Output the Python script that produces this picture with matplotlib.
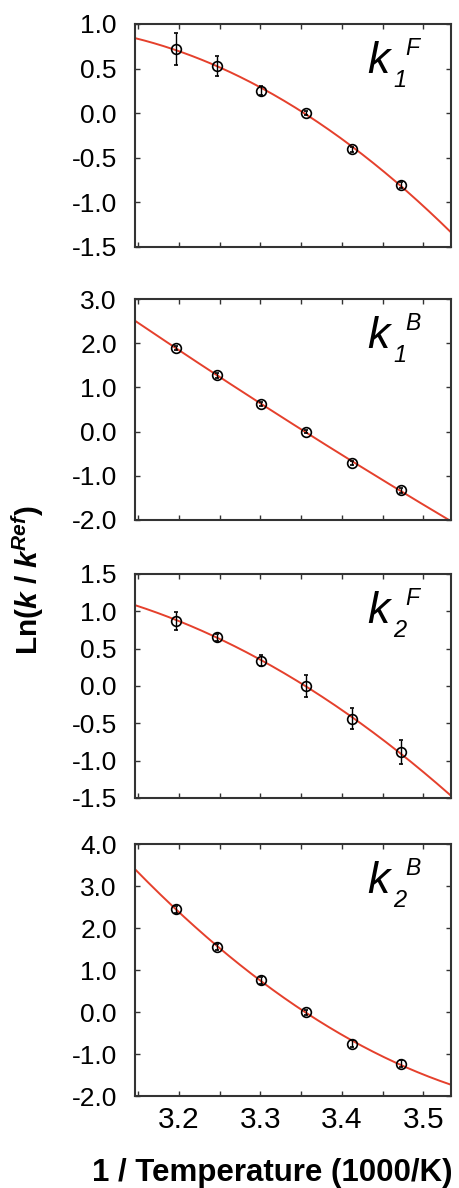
import matplotlib
matplotlib.use("Agg")
import matplotlib.pyplot as plt
import numpy as np

plt.rcParams['font.family'] = ['Liberation Sans', 'DejaVu Sans']
plt.rcParams['mathtext.fontset'] = 'custom'
plt.rcParams['mathtext.rm'] = 'Liberation Sans'
plt.rcParams['mathtext.it'] = 'Liberation Sans:italic'
plt.rcParams['mathtext.bf'] = 'Liberation Sans:bold'
plt.rcParams['mathtext.bfit'] = 'Liberation Sans:italic:bold'

# 1/T (1000/K) for 15..40 C
inv_T = [3.196, 3.247, 3.301, 3.356, 3.413, 3.472]

# ln(k/kref) and error bars for each rate constant
k1F = [0.72, 0.53, 0.25, 0.0, -0.405, -0.805]
k1F_err = [0.18, 0.11, 0.05, 0.02, 0.03, 0.03]
k1B = [1.89, 1.27, 0.62, 0.0, -0.71, -1.33]
k1B_err = [0.05, 0.05, 0.05, 0.04, 0.05, 0.05]
k2F = [0.87, 0.65, 0.34, 0.0, -0.44, -0.89]
k2F_err = [0.12, 0.05, 0.07, 0.15, 0.14, 0.16]
k2B = [2.45, 1.55, 0.76, 0.0, -0.75, -1.23]
k2B_err = [0.08, 0.08, 0.08, 0.06, 0.08, 0.08]

subs = ['1', '1', '2', '2']
sups = ['F', 'B', 'F', 'B']
series = [(k1F, k1F_err), (k1B, k1B_err), (k2F, k2F_err), (k2B, k2B_err)]
ylims = [(-1.5, 1.0), (-2.0, 3.0), (-1.5, 1.5), (-2.0, 4.0)]
ysteps = [0.5, 1.0, 0.5, 1.0]

# axes boxes in figure fraction [left, bottom, width, height]
boxes = [[0.2935, 0.7921, 0.687, 0.1877],
         [0.2935, 0.5623, 0.687, 0.1860],
         [0.2935, 0.3283, 0.687, 0.1886],
         [0.2935, 0.0774, 0.687, 0.2121]]

xmin, xmax = 3.146, 3.534

fig = plt.figure(figsize=(4.6, 11.88), dpi=100)

for i, (vals, errs) in enumerate(series):
    ax = fig.add_axes(boxes[i])
    # weighted quadratic fit through the points, drawn across the whole axis
    coef = np.polyfit(inv_T, vals, 2, w=1.0 / np.array(errs))
    xs = np.linspace(xmin, xmax, 200)
    ax.plot(xs, np.polyval(coef, xs), color='#e5402c', lw=1.4, zorder=2)
    ax.errorbar(inv_T, vals, yerr=errs, fmt='o', mfc='none', mec='black',
                ecolor='black', ms=7, mew=1.2, elinewidth=1.0, capsize=1.5,
                zorder=3)
    ax.set_xlim(xmin, xmax)
    lo, hi = ylims[i]
    ax.set_ylim(lo, hi)
    ticks = np.arange(lo, hi + 1e-9, ysteps[i])
    ax.set_yticks(ticks)
    ax.set_yticklabels(['%.1f' % t for t in ticks])
    ax.set_xticks([3.2, 3.3, 3.4, 3.5])
    ax.set_xticks(np.arange(3.15, 3.53, 0.05), minor=True)
    ax.tick_params(which='both', direction='in', top=True, right=True,
                   length=3.5, width=1.0, color='#333333')
    ax.tick_params(axis='y', labelsize=19, pad=13)
    ax.tick_params(axis='x', labelsize=21.5, pad=7)
    if i < 3:
        ax.set_xticklabels([])
    for s in ax.spines.values():
        s.set_linewidth(1.5)
        s.set_color('#333333')
    # k label with italic subscript / superscript, placed from top-right corner
    ax.annotate('k', xy=(1, 1), xycoords='axes fraction', xytext=(-60, -35),
                textcoords='offset points', fontsize=32, style='italic',
                ha='left', va='baseline')
    ax.annotate(subs[i], xy=(1, 1), xycoords='axes fraction',
                xytext=(-41.5, -45.5), textcoords='offset points',
                fontsize=17, style='italic', ha='left', va='baseline')
    ax.annotate(sups[i], xy=(1, 1), xycoords='axes fraction',
                xytext=(-33, -22.5), textcoords='offset points',
                fontsize=16.5, style='italic', ha='left', va='baseline')

fig.text(0.02, 0.512, r'Ln($\mathbfit{k}$ / $\mathbfit{k}^{\mathbfit{Ref}}$)',
         rotation=90, fontsize=21.5, fontweight='bold', ha='left', va='center')
fig.text(0.591, 0.0126, '1 / Temperature (1000/K)', fontsize=22.5,
         fontweight='bold', ha='center', va='center')

fig.savefig('out.png', dpi=100)
